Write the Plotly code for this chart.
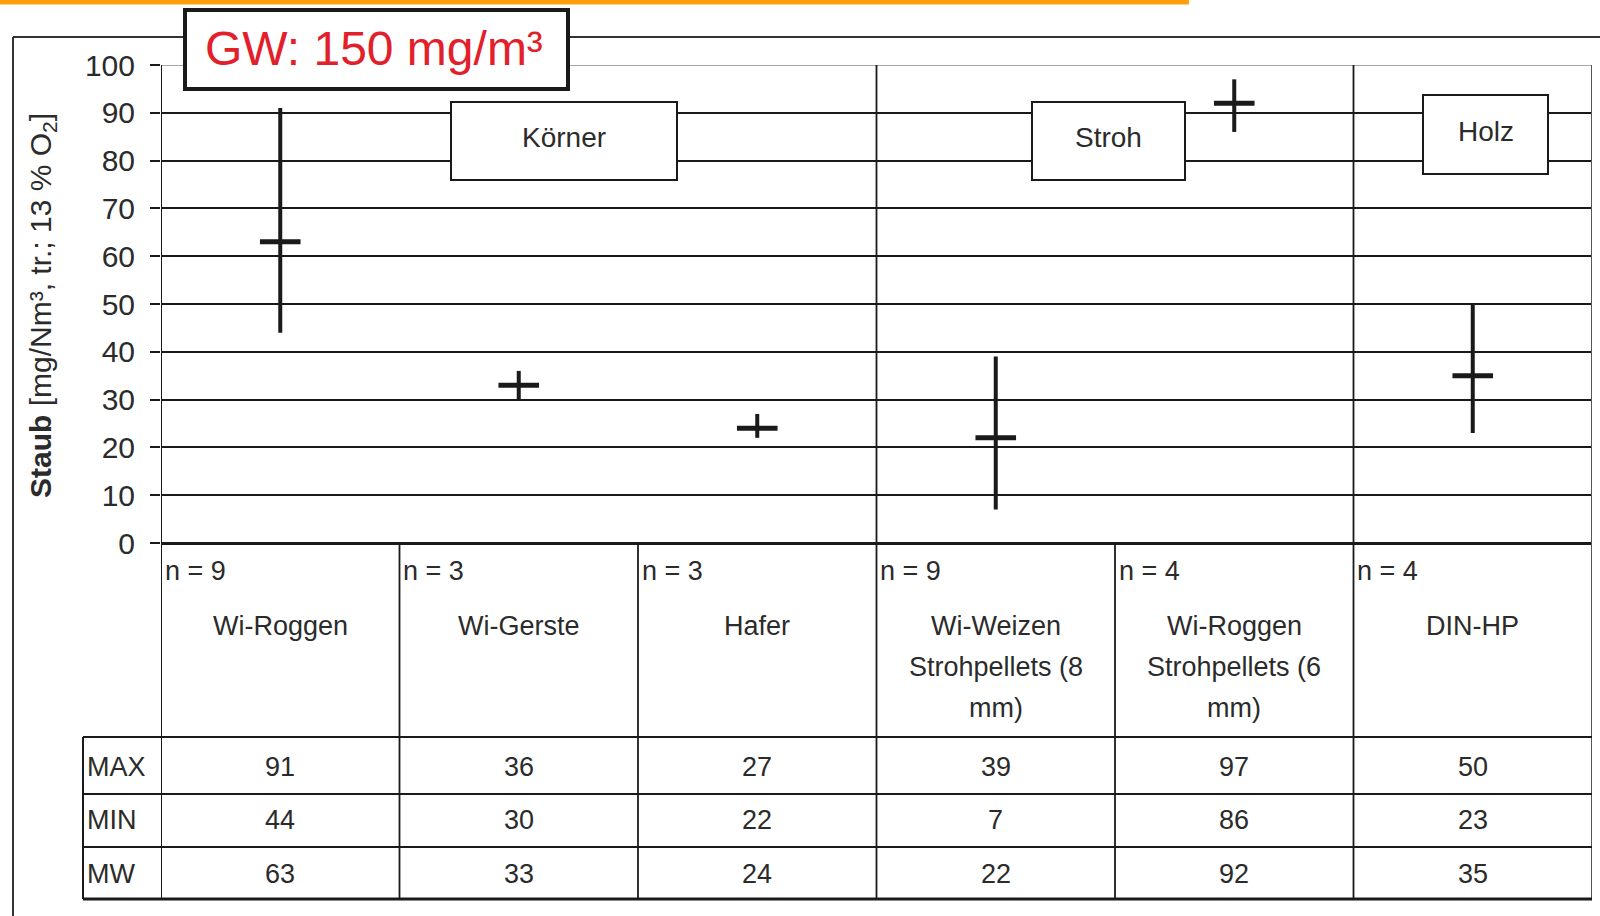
"""Staub emissions per fuel: min / max / mean crosses with a value table underneath."""
import numpy as np
import plotly.graph_objects as go

W, H = 1600, 916
FONT = "Liberation Sans, Arial, Helvetica, sans-serif"
INK = "#1a1a1a"
TEXT = "#2b2b2b"
RED = "#e2202b"
ORANGE = "#ffa00a"

# data
categories = [
    "Wi-Roggen",
    "Wi-Gerste",
    "Hafer",
    "Wi-Weizen<br>Strohpellets (8<br>mm)",
    "Wi-Roggen<br>Strohpellets (6<br>mm)",
    "DIN-HP",
]
n_values = [9, 3, 3, 9, 4, 4]
max_vals = [91, 36, 27, 39, 97, 50]
min_vals = [44, 30, 22, 7, 86, 23]
mean_vals = [63, 33, 24, 22, 92, 35]
row_labels = ["MAX", "MIN", "MW"]
y_ticks = list(range(0, 101, 10))
groups = ["Körner", "Stroh", "Holz"]


def px(x):
    return x / W


def py(y):
    return 1 - y / H


xs = np.arange(len(categories))
hi = np.array(max_vals) - np.array(mean_vals)
lo = np.array(mean_vals) - np.array(min_vals)

fig = go.Figure()
fig.add_scatter(
    x=xs, y=mean_vals, mode="markers",
    # line-ew spans 1.4 x size, so 29 gives a ~40 px mean bar
    marker=dict(symbol="line-ew", size=29, line=dict(width=5, color=INK)),
    error_y=dict(type="data", symmetric=False, array=hi, arrayminus=lo,
                 width=0, thickness=4, color=INK),
    showlegend=False, hoverinfo="skip",
)

shapes = []


def line(x0, y0, x1, y1, width=2, color=INK, xref="paper", yref="paper"):
    shapes.append(dict(type="line", xref=xref, yref=yref, x0=x0, y0=y0, x1=x1, y1=y1,
                       line=dict(color=color, width=width), layer="above"))


def box(x0, y0, x1, y1, width=2):
    shapes.append(dict(type="rect", xref="paper", yref="paper",
                       x0=px(x0), y0=py(y0), x1=px(x1), y1=py(y1),
                       line=dict(color=INK, width=width), fillcolor="white", layer="above"))


# outer frame + orange rule
line(px(0), py(2), px(1189), py(2), width=5, color=ORANGE)
line(px(13), py(37), px(1600), py(37), width=2, color="#333")
line(px(13), py(37), px(13), py(916), width=2, color="#333")

# top of plot is a thin grey line
line(-0.5, 100, 5.5, 100, width=3.5, color="white", xref="x", yref="y")
line(-0.5, 100, 5.5, 100, width=1.5, color="#888", xref="x", yref="y")

# column separators: axis, group borders and right edge run from the plot top
for i in range(len(categories) + 1):
    xv = i - 0.5
    top = 65 if i in (0, 3, 5, 6) else 543
    line(xv, py(top), xv, py(899), width=2 if i in (0, 6) else 1.8,
         color=INK if i != 6 else "#555", xref="x")

# table rows
for yv in (737, 794, 847):
    line(px(83), py(yv), px(1592), py(yv), width=2.2)
line(px(83), py(899), px(1592), py(899), width=3)
line(px(83), py(737), px(83), py(899), width=2)

# group boxes and the GW box
group_boxes = [(451, 102, 677, 180), (1032, 102, 1185, 180), (1423, 95, 1548, 174)]
for b in group_boxes:
    box(*b)
box(185, 10, 568, 89, width=4)

ann = []


def text(x, y, s, size, color=TEXT, xanchor="center", xref="paper", **kw):
    ann.append(dict(x=x, y=y, xref=xref, yref="paper", text=s, showarrow=False,
                    xanchor=xanchor, yanchor="middle",
                    font=dict(family=FONT, size=size, color=color), **kw))


text(px(374), py(49), "GW: 150 mg/m³", 48, color=RED)
for g, (x0, y0, x1, y1) in zip(groups, group_boxes):
    text(px((x0 + x1) / 2), py((y0 + y1) / 2 - 3), g, 28)

text(px(42), py(306), "<b>Staub</b> [mg/Nm³, tr.; 13 % O<sub>2</sub>]", 30, textangle=-90)

for i, cat in enumerate(categories):
    text(i - 0.5 + 0.008, py(571), f"n = {n_values[i]}", 27, xanchor="left", xref="x")
    for k, part in enumerate(cat.split("<br>")):
        text(i, py(626 + 41 * k), part, 27, xref="x")
    for r, vals in enumerate((max_vals, min_vals, mean_vals)):
        text(i, py((767, 820, 874)[r]), str(vals[i]), 27, xref="x")

for r, lab in enumerate(row_labels):
    text(px(85), py((767, 820, 874)[r]), lab, 27, xanchor="left")

fig.update_layout(
    width=W, height=H,
    margin=dict(l=0, r=0, t=0, b=0),
    paper_bgcolor="white", plot_bgcolor="white",
    font=dict(family=FONT, color=TEXT),
    shapes=shapes, annotations=ann,
    xaxis=dict(domain=[px(161), px(1592)], range=[-0.5, 5.5], showgrid=False,
               zeroline=False, showticklabels=False, showline=False, automargin=False),
    yaxis=dict(domain=[py(543), py(65)], range=[0, 100], tickvals=y_ticks,
               ticks="outside", ticklen=10, tickwidth=2, tickcolor=INK,
               ticklabelstandoff=9, automargin=False,
               showgrid=True, gridcolor=INK, gridwidth=2.4,
               zeroline=True, zerolinecolor=INK, zerolinewidth=2.5,
               tickfont=dict(size=30, color=TEXT), showline=False),
)

# the page's default body margin would shift the figure
fig.write_html("out.html", config={"displayModeBar": False},
               post_script="document.body.style.margin='0';")
